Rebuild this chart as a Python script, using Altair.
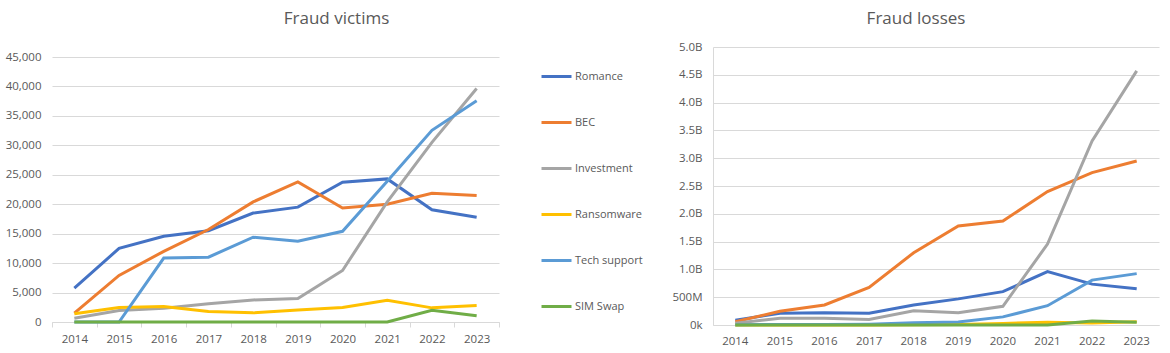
import altair as alt
import pandas as pd

years = ["2014", "2015", "2016", "2017", "2018", "2019", "2020", "2021", "2022", "2023"]
series = ["Romance", "BEC", "Investment", "Ransomware", "Tech support", "SIM Swap"]
colors = ["#4472C4", "#ED7D31", "#A5A5A5", "#FFC000", "#5B9BD5", "#70AD47"]

# Fraud victims (count)
victims_romance = [5750, 12500, 14550, 15500, 18500, 19500, 23750, 24300, 19050, 17800]
victims_bec = [1500, 7900, 12000, 15700, 20400, 23800, 19350, 20000, 21850, 21500]
victims_investment = [650, 1950, 2350, 3100, 3750, 4000, 8750, 20400, 30500, 39650]
victims_ransomware = [1400, 2450, 2650, 1800, 1550, 2050, 2450, 3700, 2400, 2800]
victims_tech = [0, 0, 10850, 11000, 14400, 13700, 15400, 23900, 32550, 37550]
victims_sim = [0, 0, 0, 0, 0, 0, 0, 0, 2000, 1050]

# Fraud losses (USD)
losses_romance = [87e6, 210e6, 220e6, 210e6, 360e6, 470e6, 600e6, 960e6, 735e6, 652e6]
losses_bec = [60e6, 246e6, 360e6, 676e6, 1300e6, 1780e6, 1870e6, 2400e6, 2740e6, 2950e6]
losses_investment = [30e6, 120e6, 120e6, 100e6, 255e6, 220e6, 336e6, 1455e6, 3310e6, 4570e6]
losses_ransomware = [1e6, 2e6, 2e6, 2e6, 4e6, 9e6, 29e6, 49e6, 34e6, 60e6]
losses_tech = [5e6, 10e6, 8e6, 15e6, 39e6, 54e6, 146e6, 347e6, 807e6, 924e6]
losses_sim = [0, 0, 0, 0, 0, 0, 0, 0, 72e6, 50e6]

victims = [victims_romance, victims_bec, victims_investment, victims_ransomware, victims_tech, victims_sim]
losses = [losses_romance, losses_bec, losses_investment, losses_ransomware, losses_tech, losses_sim]

victim_ticks = [0, 5000, 10000, 15000, 20000, 25000, 30000, 35000, 40000, 45000]
loss_ticks = [0, 5e8, 1e9, 1.5e9, 2e9, 2.5e9, 3e9, 3.5e9, 4e9, 4.5e9, 5e9]


def to_long(all_vals):
    rows = []
    for s, vals in zip(series, all_vals):
        for y, v in zip(years, vals):
            rows.append({"year": y, "series": s, "value": v})
    return pd.DataFrame(rows)


df_v = to_long(victims)
df_l = to_long(losses)

FONT = "Open Sans"
GRAY = "#595959"
GRID = "#D9D9D9"

xscale = alt.Scale(type="band", paddingInner=0, paddingOuter=0)

# left plot: top gridline (45,000) sits 10px below the panel top
LEFT_H = 275
left_max = 45000 * LEFT_H / 265

left = alt.Chart(df_v).mark_line(strokeWidth=3).encode(
    x=alt.X("year:O", sort=years, scale=xscale,
            axis=alt.Axis(title=None, labelAngle=0, tickBand="extent", ticks=True,
                          tickSize=5, tickColor=GRID, domainColor=GRID, grid=False,
                          labelColor=GRAY, labelFontSize=11.5, labelPadding=6, labelFont=FONT)),
    y=alt.Y("value:Q", scale=alt.Scale(domain=[0, left_max], nice=False),
            axis=alt.Axis(title=None, format=",d", values=victim_ticks,
                          ticks=False, domain=False, gridColor=GRID, labelColor=GRAY,
                          labelFontSize=11.5, labelPadding=11, labelFont=FONT)),
    color=alt.Color("series:N", scale=alt.Scale(domain=series, range=colors),
                    legend=alt.Legend(title=None, orient="none", legendX=488, legendY=13,
                                      symbolType="stroke", symbolSize=900, symbolStrokeWidth=3,
                                      labelFontSize=11, labelColor=GRAY, labelFont=FONT,
                                      labelOffset=2, rowPadding=23, padding=0)),
).properties(
    width=447, height=LEFT_H,
    title=alt.TitleParams("Fraud victims", fontSize=17, color=GRAY, font=FONT,
                          fontWeight="normal", anchor="middle", dx=61, offset=6,
                          baseline="alphabetic"),
)

right = alt.Chart(df_l).mark_line(strokeWidth=3).encode(
    x=alt.X("year:O", sort=years, scale=xscale,
            axis=alt.Axis(title=None, labelAngle=0, ticks=False, domainColor=GRID, grid=False,
                          labelColor=GRAY, labelFontSize=11.5, labelPadding=10, labelFont=FONT)),
    y=alt.Y("value:Q", scale=alt.Scale(domain=[0, 5e9], nice=False),
            axis=alt.Axis(title=None, values=loss_ticks,
                          labelExpr="datum.value == 0 ? '0k' : (datum.value < 1e9 ? format(datum.value / 1e6, 'd') + 'M' : format(datum.value / 1e9, '.1f') + 'B')",
                          ticks=False, domain=True, domainColor=GRID, gridColor=GRID,
                          labelColor=GRAY, labelFontSize=11.5, labelPadding=11, labelFont=FONT)),
    color=alt.Color("series:N", scale=alt.Scale(domain=series, range=colors), legend=None),
).properties(
    width=446, height=278,
    title=alt.TitleParams("Fraud losses", fontSize=17, color=GRAY, font=FONT,
                          fontWeight="normal", anchor="middle", dx=-20, offset=0,
                          baseline="alphabetic"),
)

chart = alt.hconcat(left, right, spacing=28).resolve_scale(color="independent").properties(
    padding={"left": 5, "top": 10, "right": 5, "bottom": 5},
    background="white",
).configure_view(stroke=None)

chart.save("out.html", embed_options={"renderer": "svg", "actions": False})
